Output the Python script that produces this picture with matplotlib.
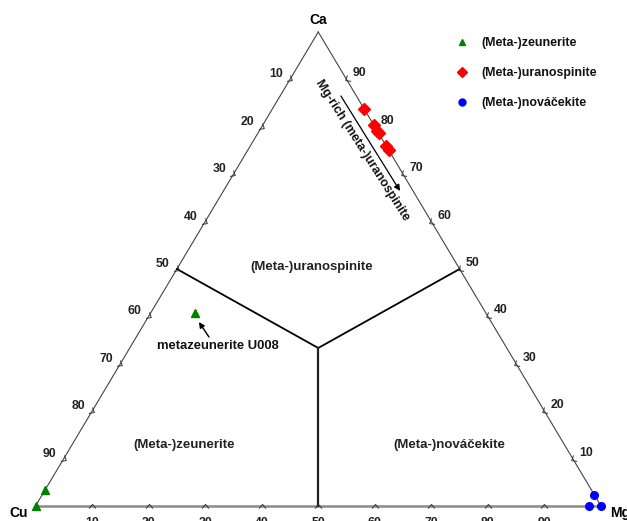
import numpy as np
import matplotlib
matplotlib.use("Agg")
import matplotlib.pyplot as plt
from matplotlib.markers import MarkerStyle
from matplotlib.path import Path
from matplotlib.transforms import Affine2D
from matplotlib.lines import Line2D

plt.rcParams['font.family'] = ['Liberation Sans', 'DejaVu Sans']
plt.rcParams['font.weight'] = 'bold'

# ---- data (percent: Cu, Ca, Mg) ----
zeun_cu = [100.0, 96.6, 51.5]
zeun_ca = [0.0, 3.4, 40.7]
zeun_mg = [0.0, 0.0, 7.8]

uran_cu = [0.0, 0.0, 0.0, 0.0, 0.0, 0.0]
uran_ca = [83.8, 80.3, 79.2, 78.6, 76.0, 75.1]
uran_mg = [16.2, 19.7, 20.8, 21.4, 24.0, 24.9]

nova_cu = [0.0, 2.2, 0.0]
nova_ca = [0.0, 0.0, 2.3]
nova_mg = [100.0, 97.8, 97.7]

tick_values = [10, 20, 30, 40, 50, 60, 70, 80, 90]
vertex_names = ["Cu", "Ca", "Mg"]
legend_labels = ["(Meta-)zeunerite", "(Meta-)uranospinite", "(Meta-)nováčekite"]
region_labels = ["(Meta-)uranospinite", "(Meta-)zeunerite", "(Meta-)nováčekite"]


def tern(cu, ca, mg):
    cu = np.asarray(cu, float); ca = np.asarray(ca, float); mg = np.asarray(mg, float)
    s = cu + ca + mg
    return (mg + ca / 2.0) / s, ca / s


W, H = 627, 521
fig = plt.figure(figsize=(W / 100, H / 100), dpi=100)
ax = fig.add_axes([0, 0, 1, 1])
ax.set_xlim(-35.5 / 565.5, (W - 35.5) / 565.5)
ax.set_ylim(-(H - 506) / 474.0, 506 / 474.0)
ax.axis('off')

# triangle edges
cx, cy = tern([100, 0, 0], [0, 100, 0], [0, 0, 100])
ax.plot([cx[0], cx[1]], [cy[0], cy[1]], color='#444444', lw=0.8, zorder=2)
ax.plot([cx[1], cx[2]], [cy[1], cy[2]], color='#444444', lw=0.8, zorder=2)
ax.plot([cx[0], cx[2]], [cy[0], cy[2]], color='#8a8a8a', lw=1.8, zorder=2)

# field boundaries
bx, by = tern([50, 100 / 3, 0], [50, 100 / 3, 50], [0, 100 / 3, 50])
ax.plot(bx, by, color='black', lw=1.3, zorder=3)
vx, vy = tern([100 / 3, 50], [100 / 3, 0], [100 / 3, 50])
ax.plot(vx, vy, color='#222222', lw=1.6, zorder=3)

# ticks (chevrons)
chev = Path([(-1, -0.6), (0, 0.6), (1, -0.6)], [Path.MOVETO, Path.LINETO, Path.LINETO])
def chevron(rot):
    return MarkerStyle(chev, transform=Affine2D().rotate_deg(rot))

tv = np.array(tick_values, float)
tick_kw = dict(ls='none', ms=5, mfc='none', mec='#333333', mew=0.7, zorder=4)
lab_kw = dict(textcoords='offset pixels', fontsize=8.8, fontweight='bold', color='#222222')
# bottom (Mg)
tbx, tby = tern(100 - tv, 0 * tv, tv)
ax.plot(tbx, tby, marker=chevron(0), **tick_kw)
for x, y, v in zip(tbx, tby, tick_values):
    ax.annotate(str(v), (x, y), xytext=(0, -11), ha='center', va='top', **lab_kw)
# left (Cu increasing downward)
tlx, tly = tern(tv, 100 - tv, 0 * tv)
ax.plot(tlx, tly, marker=chevron(-120.8), **tick_kw)
for x, y, v in zip(tlx, tly, tick_values):
    ax.annotate(str(v), (x, y), xytext=(-14, 5), ha='center', va='center', **lab_kw)
# right (Ca)
trx, try_ = tern(0 * tv, tv, 100 - tv)
ax.plot(trx, try_, marker=chevron(120.8), **tick_kw)
for x, y, v in zip(trx, try_, tick_values):
    ax.annotate(str(v), (x, y), xytext=(13, 6), ha='center', va='center', **lab_kw)

# vertex labels
ax.annotate(vertex_names[1], (cx[1], cy[1]), xytext=(0, 12), textcoords='offset pixels',
            ha='center', va='center', fontsize=10, fontweight='bold')
ax.annotate(vertex_names[0], (cx[0], cy[0]), xytext=(-17, -7), textcoords='offset pixels',
            ha='center', va='center', fontsize=10, fontweight='bold')
ax.annotate(vertex_names[2], (cx[2], cy[2]), xytext=(9, -7), textcoords='offset pixels',
            ha='left', va='center', fontsize=10, fontweight='bold')

# data points
zx, zy = tern(zeun_cu, zeun_ca, zeun_mg)
ax.plot(zx, zy, ls='none', marker='^', ms=6, color='#008000', zorder=6, clip_on=False)
ux, uy = tern(uran_cu, uran_ca, uran_mg)
ax.plot(ux, uy, ls='none', marker='D', ms=6, color='#ff0000', zorder=6, clip_on=False)
nx, ny = tern(nova_cu, nova_ca, nova_mg)
ax.plot(nx, ny, ls='none', marker='o', ms=5.5, color='#0000ff', zorder=6, clip_on=False)

# region labels
rx, ry = tern([25.9, 67.3, 20.4], [50.5, 12.9, 12.9], [23.6, 19.8, 66.7])
for x, y, t in zip(rx, ry, region_labels):
    ax.text(x, y, t, ha='center', va='center', fontsize=9.5, fontweight='bold', color='#222222')

# metazeunerite U008 annotation
ax.text(0.3227, 0.3376, "metazeunerite U008", ha='center', va='center', fontsize=9.4,
        fontweight='bold', color='#111111')
ax.annotate("", xy=(0.289, 0.388), xytext=(0.3068, 0.3565),
            arrowprops=dict(arrowstyle='-|>', color='black', lw=1.0, mutation_scale=8,
                            shrinkA=0, shrinkB=0))

# Mg-rich arrow and label
ax.annotate("", xy=(0.6446, 0.6646), xytext=(0.540, 0.865),
            arrowprops=dict(arrowstyle='-|>', color='black', lw=0.9, mutation_scale=9,
                            shrinkA=0, shrinkB=0))
ax.text(0.5775, 0.7510, "Mg-rich (meta-)uranospinite", rotation=-57.5, rotation_mode='anchor',
        ha='center', va='center', fontsize=8.9, fontweight='bold', color='#111111')

# legend
handles = [
    Line2D([], [], ls='none', marker='^', ms=5, color='#008000'),
    Line2D([], [], ls='none', marker='D', ms=5.5, color='#ff0000'),
    Line2D([], [], ls='none', marker='o', ms=5, color='#0000ff'),
]
leg = ax.legend(handles, legend_labels, loc='upper left', bbox_to_anchor=(456 / W, 1 - 37 / H),
                bbox_transform=fig.transFigure, frameon=False, fontsize=8.9,
                handlelength=1.0, handletextpad=1.05, labelspacing=1.45, borderpad=0, borderaxespad=0)
for t in leg.get_texts():
    t.set_fontweight('bold')
    t.set_color('#111111')

fig.savefig("out.png", dpi=100)
